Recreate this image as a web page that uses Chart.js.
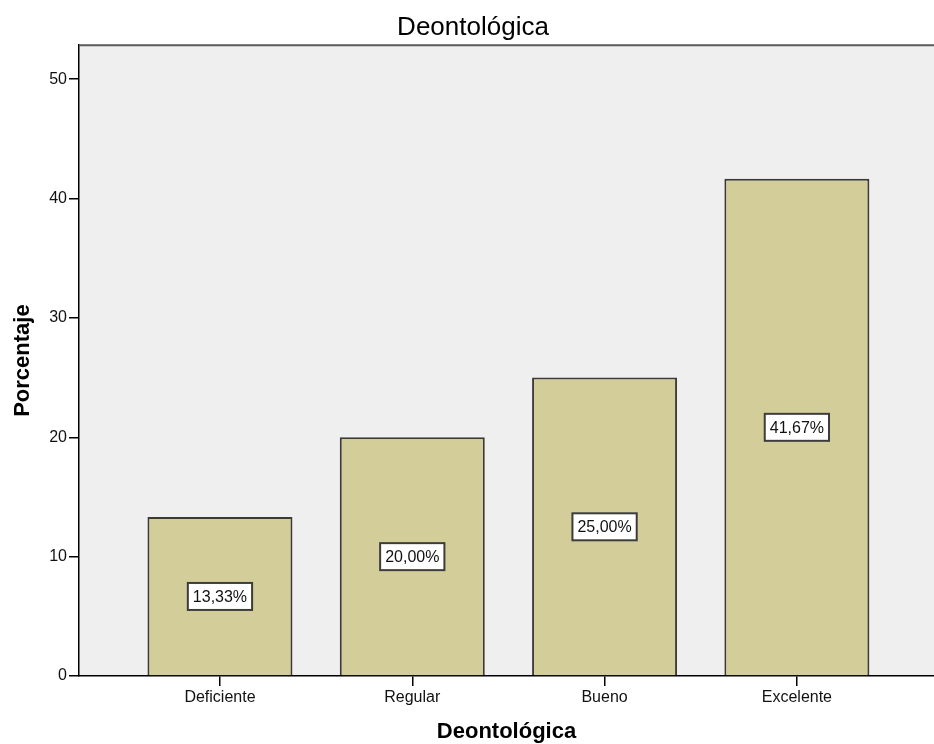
<!DOCTYPE html>
<html>
<head>
<meta charset="utf-8">
<script src="https://cdn.jsdelivr.net/npm/chart.js@4/dist/chart.umd.min.js"></script>
<style>
  html, body { margin: 0; padding: 0; background: #ffffff; overflow: hidden; }
  #wrap { width: 934px; height: 744px; position: relative; }
</style>
</head>
<body>
<div id="wrap"><canvas id="c" width="934" height="744"></canvas></div>
<script>
// Chart content
const chartTitle = 'Deontológica';
const xAxisTitle = 'Deontológica';
const yAxisTitle = 'Porcentaje';
const categories = ['Deficiente', 'Regular', 'Bueno', 'Excelente'];
const percentages = [13.33, 20.00, 25.00, 41.67];
const yTickValues = [0, 10, 20, 30, 40, 50];

const FONT = "'Liberation Sans', Arial, sans-serif";

// Light grey plot background plus the dark frame line along the top
const plotFrame = {
  id: 'plotFrame',
  beforeDraw(chart) {
    const { ctx, chartArea: a } = chart;
    ctx.save();
    ctx.fillStyle = '#efefef';
    ctx.fillRect(a.left, a.top, a.right - a.left, a.bottom - a.top);
    ctx.restore();
  },
  afterDraw(chart) {
    const { ctx, chartArea: a } = chart;
    ctx.save();
    ctx.strokeStyle = '#5a5a5a';
    ctx.lineWidth = 2;
    ctx.beginPath();
    ctx.moveTo(a.left, a.top);
    ctx.lineTo(a.right, a.top);
    ctx.stroke();
    ctx.restore();
  }
};

// Boxed percentage labels placed at half the bar height
const valueBoxes = {
  id: 'valueBoxes',
  afterDatasetsDraw(chart) {
    const { ctx } = chart;
    const yScale = chart.scales.y;
    const meta = chart.getDatasetMeta(0);
    ctx.save();
    ctx.font = '16px ' + FONT;
    ctx.textAlign = 'center';
    ctx.textBaseline = 'middle';
    meta.data.forEach((bar, i) => {
      const v = percentages[i];
      const text = v.toFixed(2).replace('.', ',') + '%';
      const x = bar.x;
      const y = yScale.getPixelForValue(v / 2);
      const w = ctx.measureText(text).width + 10;
      const h = 27;
      ctx.fillStyle = '#ffffff';
      ctx.fillRect(x - w / 2, y - h / 2, w, h);
      ctx.strokeStyle = '#3c3c3c';
      ctx.lineWidth = 2;
      ctx.strokeRect(x - w / 2, y - h / 2, w, h);
      ctx.fillStyle = '#111111';
      ctx.fillText(text, x, y + 1);
    });
    ctx.restore();
  }
};

new Chart(document.getElementById('c'), {
  type: 'bar',
  data: {
    datasets: [{
      data: percentages.map((v, i) => ({ x: i, y: v })),
      backgroundColor: '#d3ce99',
      borderColor: '#3a3a36',
      borderWidth: 2,
      categoryPercentage: 1,
      barPercentage: 0.754
    }]
  },
  options: {
    responsive: false,
    animation: false,
    devicePixelRatio: 1,
    layout: { padding: { left: 12, right: 0, top: 0, bottom: 0 } },
    plugins: {
      legend: { display: false },
      tooltip: { enabled: false },
      title: {
        display: true,
        text: chartTitle,
        color: '#000000',
        font: { family: FONT, size: 26, weight: 'normal', lineHeight: 1.2 },
        padding: { top: 12, bottom: 2 }
      }
    },
    scales: {
      x: {
        type: 'linear',
        offset: false,
        min: -0.733,
        max: 3.713,
        afterBuildTicks(scale) {
          scale.ticks = categories.map((_, i) => ({ value: i }));
        },
        afterFit(scale) { scale.height = 68; },
        ticks: {
          autoSkip: false,
          maxRotation: 0,
          padding: 2,
          color: '#111111',
          font: { family: FONT, size: 16 },
          callback: (value) => categories[Math.round(value)]
        },
        grid: {
          offset: false,
          drawOnChartArea: false,
          drawTicks: true,
          tickLength: 10,
          color: '#000000',
          lineWidth: 1.5
        },
        border: { display: true, color: '#000000', width: 1.5 },
        title: {
          display: true,
          text: xAxisTitle,
          color: '#000000',
          font: { family: FONT, size: 22, weight: 'bold', lineHeight: 1 },
          padding: { top: 0, bottom: 1 }
        }
      },
      y: {
        min: 0,
        max: 52.85,
        afterBuildTicks(scale) {
          scale.ticks = yTickValues.map(v => ({ value: v }));
        },
        afterFit(scale) { scale.width = 67; },
        ticks: {
          padding: 2,
          color: '#111111',
          font: { family: FONT, size: 16 }
        },
        grid: {
          drawOnChartArea: false,
          drawTicks: true,
          tickLength: 10,
          color: '#000000',
          lineWidth: 1.5
        },
        border: { display: true, color: '#000000', width: 1.5 },
        title: {
          display: true,
          text: yAxisTitle,
          color: '#000000',
          font: { family: FONT, size: 22, weight: 'bold', lineHeight: 1 },
          padding: { top: 0, bottom: 0 }
        }
      }
    }
  },
  plugins: [plotFrame, valueBoxes]
});
</script>
</body>
</html>
